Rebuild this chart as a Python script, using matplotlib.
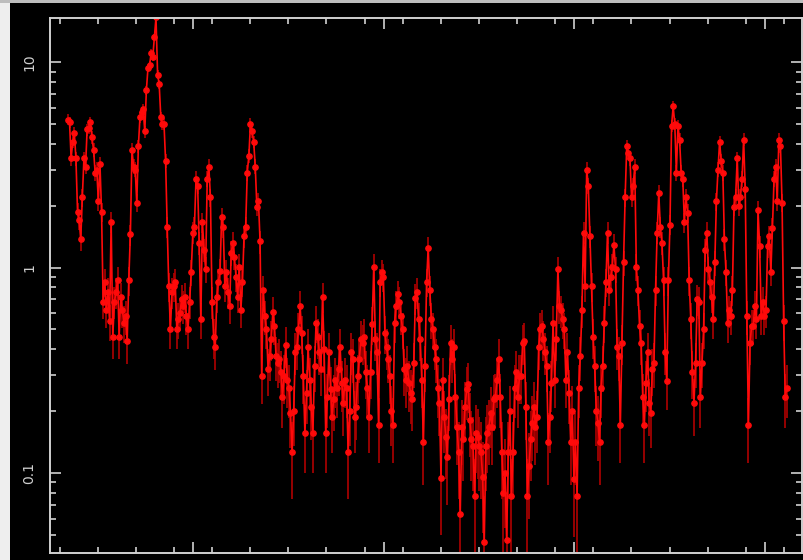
import numpy as np
import matplotlib
matplotlib.use("Agg")
import matplotlib.pyplot as plt
from matplotlib.patches import Rectangle

# light curve: 84 s bins starting at 3440 s (flux in counts/s)
t_start = 3440.0
bin_size = 84.0

flux = [
    5.25, 5.1, 3.4, 4.1, 4.5, 3.4, 1.87, 1.71, 1.37, 2.2,
    3.4, 3.1, 4.7, 4.8, 5.1, 4.3, 3.75, 2.9, 3.0, 2.1,
    3.2, 1.87, 0.68, 0.85, 0.62, 0.76, 0.55, 1.67, 0.46, 0.68,
    0.76, 0.87, 0.46, 0.72, 0.62, 0.54, 0.58, 0.44, 0.87, 1.45,
    3.75, 3.1, 3.0, 2.07, 3.9, 5.4, 5.7, 5.9, 4.6, 7.3,
    9.4, 9.7, 11.1, 10.6, 13.2, 16.5, 8.7, 7.8, 5.4, 5.0,
    5.0, 3.3, 1.58, 0.81, 0.50, 0.76, 0.81, 0.85, 0.50, 0.56,
    0.60, 0.70, 0.65, 0.72, 0.58, 0.50, 0.68, 0.95, 1.48, 1.58,
    2.7, 2.5, 1.32, 0.56, 1.66, 1.22, 0.98, 2.7, 3.1, 2.2,
    0.68, 0.46, 0.41, 0.72, 0.85, 0.96, 1.77, 1.58, 0.81, 0.95,
    0.76, 0.65, 1.18, 1.32, 1.12, 0.90, 0.72, 1.01, 0.62, 0.85,
    1.42, 1.58, 2.9, 3.5, 5.0, 4.6, 4.1, 3.1, 1.98, 2.1,
    1.34, 0.295, 0.78, 0.58, 0.50, 0.32, 0.37, 0.45, 0.61, 0.52,
    0.37, 0.345, 0.36, 0.31, 0.235, 0.295, 0.42, 0.285, 0.26, 0.197,
    0.126, 0.20, 0.39, 0.41, 0.50, 0.65, 0.48, 0.295, 0.157, 0.245,
    0.41, 0.285, 0.21, 0.157, 0.33, 0.54, 0.46, 0.39, 0.32, 0.72,
    0.40, 0.157, 0.235, 0.39, 0.255, 0.188, 0.23, 0.285, 0.26, 0.32,
    0.41, 0.275, 0.22, 0.285, 0.26, 0.126, 0.20, 0.39, 0.36, 0.188,
    0.21, 0.295, 0.36, 0.45, 0.43, 0.46, 0.31, 0.26, 0.188, 0.31,
    0.53, 1.01, 0.45, 0.39, 0.172, 0.85, 0.95, 0.90, 0.48, 0.41,
    0.36, 0.295, 0.20, 0.172, 0.54, 0.65, 0.74, 0.68, 0.58, 0.50,
    0.32, 0.285, 0.33, 0.275, 0.245, 0.23, 0.345, 0.71, 0.76, 0.56,
    0.45, 0.285, 0.141, 0.33, 0.85, 1.25, 0.78, 0.56, 0.50, 0.41,
    0.36, 0.26, 0.22, 0.095, 0.285, 0.188, 0.15, 0.12, 0.23, 0.43,
    0.36, 0.41, 0.235, 0.168, 0.126, 0.063, 0.168, 0.146, 0.21, 0.255,
    0.27, 0.182, 0.146, 0.135, 0.077, 0.157, 0.15, 0.135, 0.126, 0.096,
    0.046, 0.135, 0.157, 0.168, 0.197, 0.168, 0.23, 0.235, 0.285, 0.36,
    0.235, 0.126, 0.080, 0.10, 0.047, 0.126, 0.20, 0.077, 0.126, 0.26,
    0.31, 0.235, 0.295, 0.295, 0.43, 0.44, 0.21, 0.077, 0.108, 0.146,
    0.176, 0.21, 0.168, 0.188, 0.41, 0.50, 0.52, 0.45, 0.39, 0.33,
    0.141, 0.188, 0.275, 0.54, 0.285, 0.45, 0.98, 0.65, 0.62, 0.56,
    0.50, 0.285, 0.39, 0.245, 0.141, 0.20, 0.093, 0.141, 0.077, 0.26,
    0.37, 0.62, 1.48, 0.81, 3.0, 2.5, 1.42, 0.81, 0.46, 0.33,
    0.20, 0.176, 0.141, 0.26, 0.33, 0.54, 0.85, 1.48, 0.78, 0.90,
    1.01, 1.29, 0.98, 0.41, 0.37, 0.172, 0.43, 1.06, 2.2, 3.9,
    3.6, 3.4, 2.2, 2.5, 3.1, 1.01, 0.78, 0.52, 0.43, 0.235,
    0.172, 0.275, 0.39, 0.22, 0.197, 0.32, 0.345, 0.78, 1.48, 2.3,
    1.58, 1.32, 0.87, 0.39, 0.28, 0.87, 1.62, 4.9, 6.1, 5.0,
    2.9, 4.9, 4.2, 2.9, 2.7, 1.66, 2.2, 1.85, 0.87, 0.56,
    0.31, 0.22, 0.345, 0.70, 0.68, 0.235, 0.345, 0.50, 1.22, 1.48,
    0.98, 0.85, 0.72, 0.56, 1.06, 2.1, 3.0, 4.1, 3.3, 2.9,
    1.37, 0.95, 0.54, 0.62, 0.58, 0.78, 1.98, 2.2, 3.4, 2.0,
    2.2, 2.7, 4.2, 2.4, 0.58, 0.172, 0.43, 0.52, 0.52, 0.65,
    0.56, 1.9, 1.27, 0.58, 0.68, 0.58, 0.62, 1.27, 1.42, 0.95,
    1.56, 2.7, 3.1, 2.1, 4.2, 3.9, 2.07, 0.55, 0.235, 0.26,
]

flux_err = [
    0.33, 0.33, 0.27, 0.29, 0.31, 0.27, 0.20, 0.19, 0.17, 0.22,
    0.27, 0.26, 0.31, 0.32, 0.33, 0.30, 0.28, 0.25, 0.25, 0.21,
    0.26, 0.20, 0.12, 0.13, 0.11, 0.13, 0.11, 0.19, 0.10, 0.12,
    0.13, 0.14, 0.10, 0.12, 0.11, 0.11, 0.11, 0.10, 0.14, 0.17,
    0.28, 0.26, 0.25, 0.21, 0.29, 0.34, 0.35, 0.35, 0.31, 0.39,
    0.44, 0.45, 0.48, 0.47, 0.53, 0.59, 0.43, 0.40, 0.34, 0.32,
    0.32, 0.26, 0.18, 0.13, 0.10, 0.13, 0.13, 0.13, 0.10, 0.11,
    0.11, 0.12, 0.12, 0.12, 0.11, 0.10, 0.12, 0.14, 0.18, 0.18,
    0.24, 0.23, 0.17, 0.11, 0.19, 0.16, 0.14, 0.24, 0.26, 0.22,
    0.12, 0.10, 0.093, 0.12, 0.13, 0.14, 0.19, 0.18, 0.13, 0.14,
    0.13, 0.12, 0.16, 0.17, 0.15, 0.14, 0.12, 0.15, 0.11, 0.13,
    0.17, 0.18, 0.25, 0.27, 0.32, 0.31, 0.29, 0.26, 0.20, 0.21,
    0.17, 0.079, 0.13, 0.11, 0.10, 0.082, 0.088, 0.10, 0.11, 0.10,
    0.088, 0.085, 0.087, 0.081, 0.070, 0.079, 0.094, 0.077, 0.074, 0.064,
    0.051, 0.065, 0.091, 0.093, 0.10, 0.12, 0.10, 0.079, 0.057, 0.072,
    0.093, 0.077, 0.066, 0.057, 0.083, 0.11, 0.10, 0.091, 0.082, 0.12,
    0.092, 0.057, 0.070, 0.091, 0.073, 0.063, 0.070, 0.077, 0.074, 0.082,
    0.093, 0.076, 0.068, 0.077, 0.074, 0.051, 0.065, 0.091, 0.087, 0.063,
    0.066, 0.079, 0.087, 0.10, 0.095, 0.10, 0.081, 0.074, 0.063, 0.081,
    0.11, 0.15, 0.10, 0.091, 0.060, 0.13, 0.14, 0.14, 0.10, 0.093,
    0.087, 0.079, 0.065, 0.060, 0.11, 0.12, 0.12, 0.12, 0.11, 0.10,
    0.082, 0.077, 0.083, 0.076, 0.072, 0.070, 0.085, 0.12, 0.13, 0.11,
    0.10, 0.077, 0.054, 0.083, 0.13, 0.16, 0.13, 0.11, 0.10, 0.093,
    0.087, 0.074, 0.068, 0.045, 0.077, 0.063, 0.056, 0.050, 0.070, 0.095,
    0.087, 0.093, 0.070, 0.059, 0.051, 0.036, 0.059, 0.055, 0.066, 0.073,
    0.075, 0.062, 0.055, 0.053, 0.040, 0.057, 0.056, 0.053, 0.051, 0.045,
    0.031, 0.053, 0.057, 0.059, 0.064, 0.059, 0.070, 0.070, 0.077, 0.087,
    0.070, 0.051, 0.041, 0.046, 0.031, 0.051, 0.065, 0.040, 0.051, 0.074,
    0.081, 0.070, 0.079, 0.079, 0.095, 0.10, 0.066, 0.040, 0.048, 0.055,
    0.061, 0.066, 0.059, 0.063, 0.093, 0.10, 0.10, 0.10, 0.091, 0.083,
    0.054, 0.063, 0.076, 0.11, 0.077, 0.10, 0.14, 0.12, 0.11, 0.11,
    0.10, 0.077, 0.091, 0.072, 0.054, 0.065, 0.044, 0.054, 0.040, 0.074,
    0.088, 0.11, 0.18, 0.13, 0.25, 0.23, 0.17, 0.13, 0.10, 0.083,
    0.065, 0.061, 0.054, 0.074, 0.083, 0.11, 0.13, 0.18, 0.13, 0.14,
    0.15, 0.16, 0.14, 0.093, 0.088, 0.060, 0.095, 0.15, 0.22, 0.29,
    0.28, 0.27, 0.22, 0.23, 0.26, 0.15, 0.13, 0.10, 0.095, 0.070,
    0.060, 0.076, 0.091, 0.068, 0.064, 0.082, 0.085, 0.13, 0.18, 0.22,
    0.18, 0.17, 0.14, 0.091, 0.077, 0.14, 0.18, 0.32, 0.36, 0.32,
    0.25, 0.32, 0.30, 0.25, 0.24, 0.19, 0.22, 0.20, 0.14, 0.11,
    0.081, 0.068, 0.085, 0.12, 0.12, 0.070, 0.085, 0.10, 0.16, 0.18,
    0.14, 0.13, 0.12, 0.11, 0.15, 0.21, 0.25, 0.29, 0.26, 0.25,
    0.17, 0.14, 0.11, 0.11, 0.11, 0.13, 0.20, 0.22, 0.27, 0.21,
    0.22, 0.24, 0.30, 0.22, 0.11, 0.060, 0.095, 0.10, 0.10, 0.12,
    0.11, 0.20, 0.16, 0.11, 0.12, 0.11, 0.11, 0.16, 0.17, 0.14,
    0.18, 0.24, 0.26, 0.21, 0.30, 0.29, 0.21, 0.11, 0.070, 0.074,
]

x_major = [10000, 20000, 30000, 40000]
y_major = [0.1, 1, 10]
y_labels = ["0.1", "1", "10"]

time = t_start + bin_size * np.arange(len(flux))

fig = plt.figure(figsize=(8.04, 5.60), dpi=100, facecolor="black")
ax = fig.add_axes([0.0622, 0.0125, 0.9353, 0.9554], facecolor="black")

# screen-capture edges
fig.patches.append(Rectangle((0, 0), 10 / 804, 1, transform=fig.transFigure,
                             facecolor="#eeeeee", edgecolor="none", zorder=0))
fig.patches.append(Rectangle((0, 1 - 3 / 560), 1, 3 / 560, transform=fig.transFigure,
                             facecolor="#bdbdbd", edgecolor="none", zorder=0))

ax.errorbar(time, flux, yerr=flux_err, fmt="-o", color="#ff0a0a", lw=1.2,
            ms=3.8, mec="#ff0a0a", ecolor="#b00000", elinewidth=1.2, capsize=0)

ax.set_yscale("log")
ax.set_xlim(2500, 41950)
ax.set_ylim(0.0408, 16.4)

ax.set_xticks(x_major)
ax.set_xticks(np.arange(3000, 42000, 2000), minor=True)
ax.set_yticks(y_major)
ax.set_yticklabels(y_labels, rotation=90, va="center")

for s in ax.spines.values():
    s.set_color("#d0d0d0")
    s.set_linewidth(1.4)

ax.tick_params(which="both", direction="in", colors="#d0d0d0",
               top=True, right=True, labelbottom=False, width=1.2)
ax.tick_params(which="major", length=8, labelsize=10, pad=10)
ax.tick_params(which="minor", length=4)

fig.savefig("out.png", dpi=100, facecolor=fig.get_facecolor())
